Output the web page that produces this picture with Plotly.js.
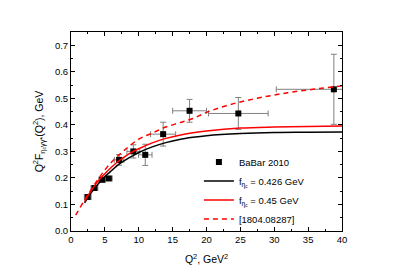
<!DOCTYPE html>
<html><head><meta charset="utf-8">
<script src="https://cdn.plot.ly/plotly-3.0.1.min.js"></script>
<style>html,body{margin:0;padding:0;background:#fff}#c{width:397px;height:277px}</style>
</head><body><div id="c"></div>
<script>
// BaBar 2010 data
const dataQ2 = [2.47, 3.46, 4.6, 5.58, 7.1, 9.2, 10.96, 13.6, 17.5, 24.7, 38.8];
const dataF  = [0.128, 0.162, 0.193, 0.198, 0.268, 0.300, 0.287, 0.365, 0.453, 0.443, 0.534];
const dataEy = [0.006, 0.006, 0.007, 0.007, 0.020, 0.025, 0.040, 0.045, 0.043, 0.060, 0.132];
const dataEx = [0.5, 0.5, 0.5, 0.5, 0.7, 0.95, 1.0, 1.85, 2.5, 4.4, 8.5];

// f = 0.426 GeV (black)
const blackQ2 = [2, 3, 4, 5, 6, 7, 8, 9, 10, 12, 14, 16, 18, 20, 25, 30, 35, 40];
const blackF  = [0.106, 0.145, 0.177, 0.205, 0.228, 0.250, 0.267, 0.282, 0.296, 0.317, 0.333, 0.345, 0.353, 0.359, 0.367, 0.371, 0.372, 0.373];

// f = 0.45 GeV (red)
const redQ2 = [2, 3, 4, 5, 6, 7, 8, 9, 10, 12, 14, 16, 18, 20, 25, 30, 35, 40];
const redF  = [0.111, 0.153, 0.188, 0.216, 0.241, 0.263, 0.281, 0.297, 0.310, 0.332, 0.349, 0.361, 0.370, 0.377, 0.388, 0.392, 0.394, 0.396];

// [1804.08287] (red dashed)
const dashQ2 = [0.7, 1, 2, 3, 4, 5, 6, 7, 8, 10, 12, 14, 16, 18, 20, 24, 28, 32, 36, 40];
const dashF  = [0.060, 0.073, 0.117, 0.157, 0.195, 0.230, 0.260, 0.285, 0.307, 0.346, 0.369, 0.392, 0.408, 0.424, 0.447, 0.480, 0.503, 0.521, 0.535, 0.547];

const FONT = 'Liberation Sans, Arial, sans-serif';

const traces = [
  {x: dataQ2, y: dataF, type: 'scatter', mode: 'markers', name: 'BaBar 2010',
   marker: {symbol: 'square', size: 6, color: '#000'},
   error_y: {type: 'data', array: dataEy, visible: true, color: '#808080', thickness: 1, width: 3},
   error_x: {type: 'data', array: dataEx, visible: true, color: '#808080', thickness: 1, width: 3}},
  {x: blackQ2, y: blackF, type: 'scatter', mode: 'lines', name: 'f<sub>η<sub>c</sub></sub> = 0.426 GeV',
   line: {color: '#000', width: 1.5, shape: 'spline'}},
  {x: redQ2, y: redF, type: 'scatter', mode: 'lines', name: 'f<sub>η<sub>c</sub></sub> = 0.45 GeV',
   line: {color: '#ff0000', width: 1.5, shape: 'spline'}},
  {x: dashQ2, y: dashF, type: 'scatter', mode: 'lines', name: '[1804.08287]',
   line: {color: '#ff0000', width: 1.5, dash: '5px,4px', shape: 'spline'}}
];

const axisCommon = {
  showline: true, linecolor: '#000', linewidth: 1, mirror: 'allticks',
  ticks: 'inside', ticklen: 4, tickcolor: '#000', tickwidth: 1,
  showgrid: false, zeroline: false,
  tickfont: {family: FONT, size: 9.5, color: '#000'}
};

const layout = {
  width: 397, height: 277,
  margin: {l: 71, r: 55, t: 32, b: 46},
  paper_bgcolor: '#fff', plot_bgcolor: '#fff',
  showlegend: true,
  legend: {x: 0.472, y: 0.42, xanchor: 'left', yanchor: 'top', bgcolor: 'rgba(0,0,0,0)',
           font: {family: FONT, size: 9.5, color: '#000'}, tracegroupgap: 0, itemwidth: 30},
  xaxis: Object.assign({}, axisCommon, {
    range: [0, 40], dtick: 5, tick0: 0,
    minor: {ticks: 'inside', dtick: 2.5, ticklen: 2, tickcolor: '#000'},
    title: {text: 'Q<sup>2</sup>, GeV<sup>2</sup>', font: {family: FONT, size: 10.5, color: '#000'}, standoff: 11}
  }),
  yaxis: Object.assign({}, axisCommon, {
    range: [0, 0.75], dtick: 0.1, tick0: 0, tickformat: '.1f',
    minor: {ticks: 'inside', dtick: 0.05, ticklen: 2, tickcolor: '#000'},
    title: {text: 'Q<sup>2</sup>F<sub>η<sub>c</sub>γγ*</sub>(Q<sup>2</sup>), GeV', font: {family: FONT, size: 10.5, color: '#000'}, standoff: 9}
  })
};

Plotly.newPlot('c', traces, layout, {staticPlot: true, displayModeBar: false});
</script>
</body></html>
